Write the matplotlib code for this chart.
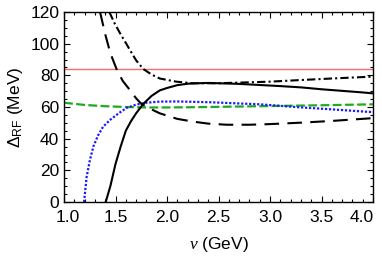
import matplotlib
matplotlib.use("Agg")
import matplotlib.pyplot as plt
from matplotlib.ticker import MultipleLocator
from matplotlib.transforms import ScaledTranslation

plt.rcParams['font.family'] = ['Liberation Sans', 'DejaVu Sans']
plt.rcParams['mathtext.fontset'] = 'custom'
plt.rcParams['mathtext.rm'] = 'Liberation Sans'
plt.rcParams['mathtext.it'] = 'Liberation Serif:italic'

x_ticks = [1.0, 1.5, 2.0, 2.5, 3.0, 3.5, 4.0]
x_ticklabels = ['1.0', '1.5', '2.0', '2.5', '3.0', '3.5', '4.0']
y_ticks = [0, 20, 40, 60, 80, 100, 120]

solid_nu = [1.405, 1.45, 1.50, 1.55, 1.60, 1.65, 1.70, 1.77, 1.85, 1.93, 2.0, 2.1, 2.2, 2.3, 2.4, 2.5, 2.7, 2.9, 3.1, 3.3, 3.5, 3.7, 3.9, 4.0]
solid_v = [0, 10, 24, 35, 45, 51, 56, 62, 67, 70.5, 72, 73.8, 74.7, 75, 75.2, 75, 74.6, 73.9, 73.2, 72.4, 71.2, 70.2, 69.2, 68.6]

dd_nu = [1.44, 1.49, 1.544, 1.60, 1.64, 1.70, 1.77, 1.85, 1.93, 2.09, 2.25, 2.5, 3.0, 3.29, 3.6, 4.0]
dd_v = [120, 113, 106.6, 100.5, 96, 89.5, 84, 80.5, 78, 76, 75, 75, 76, 77, 78, 79.2]

ld_nu = [1.35, 1.40, 1.45, 1.51, 1.57, 1.64, 1.70, 1.75, 1.85, 1.93, 2.1, 2.26, 2.4, 2.58, 2.8, 3.0, 3.3, 3.6, 3.94, 4.0]
ld_v = [120, 106, 94, 84, 76.5, 70.7, 65.5, 62, 58.5, 56, 52.5, 50.7, 49.5, 48.8, 48.8, 49.2, 50.1, 51.2, 52.7, 53]

blue_nu = [1.195, 1.22, 1.25, 1.285, 1.33, 1.38, 1.45, 1.53, 1.61, 1.7, 1.8, 1.93, 2.1, 2.42, 2.9, 3.29, 3.6, 3.94, 4.0]
blue_v = [0, 16, 26, 35, 42, 47.6, 52, 56, 59.5, 61.5, 62.7, 63.4, 63.5, 63, 61.7, 59.8, 58.5, 57, 56.8]

green_nu = [1.0, 1.2, 1.4, 1.6, 1.8, 2.0, 2.3, 2.6, 3.0, 3.5, 4.0]
green_v = [62.7, 61.3, 60.5, 60, 59.7, 59.7, 59.9, 60.2, 60.6, 61.1, 61.7]

red_nu = [1.0, 4.0]
red_v = [84, 84]

fig = plt.figure(figsize=(3.82, 2.58), dpi=100)
ax = fig.add_axes([64/382, 1-202/258, (373-64)/382, (202-12)/258])

ax.plot(red_nu, red_v, color='#f07070', lw=1.0)
ax.plot(green_nu, green_v, color='#1faa1f', lw=1.6, dashes=(4, 1.5))
ax.plot(blue_nu, blue_v, color='#1a1aff', lw=1.6, dashes=(1, 0.8))
ax.plot(ld_nu, ld_v, color='black', lw=1.5, dashes=(7, 4))
ax.plot(dd_nu, dd_v, color='black', lw=1.5, dashes=(4, 1.5, 1, 1.5))
ax.plot(solid_nu, solid_v, color='black', lw=1.5)

ax.set_xlim(1.0, 4.0)
ax.set_ylim(0, 120)
ax.set_xticks(x_ticks)
ax.set_xticklabels(x_ticklabels)
ax.set_yticks(y_ticks)
ax.xaxis.set_minor_locator(MultipleLocator(0.1))
ax.yaxis.set_minor_locator(MultipleLocator(5))
ax.tick_params(which='both', direction='in', top=True, right=True, labelsize=12.5, width=0.8)
ax.tick_params(axis='x', pad=6)
ax.tick_params(which='major', length=4)
ax.tick_params(which='minor', length=2)
for s in ax.spines.values():
    s.set_linewidth(1.0)

ax.set_xlabel(r'$\nu$ (GeV)', fontsize=12.5, labelpad=7)
ax.set_ylabel(r'$\Delta_{\mathrm{RF}}$ (MeV)', fontsize=12.5, labelpad=4)

xlabels = ax.get_xticklabels()
xlabels[0].set_transform(xlabels[0].get_transform() + ScaledTranslation(4/100, 0, fig.dpi_scale_trans))
xlabels[-1].set_horizontalalignment('right')
xlabels[-1].set_transform(xlabels[-1].get_transform() + ScaledTranslation(1/100, 0, fig.dpi_scale_trans))

fig.savefig('out.png', dpi=100)
